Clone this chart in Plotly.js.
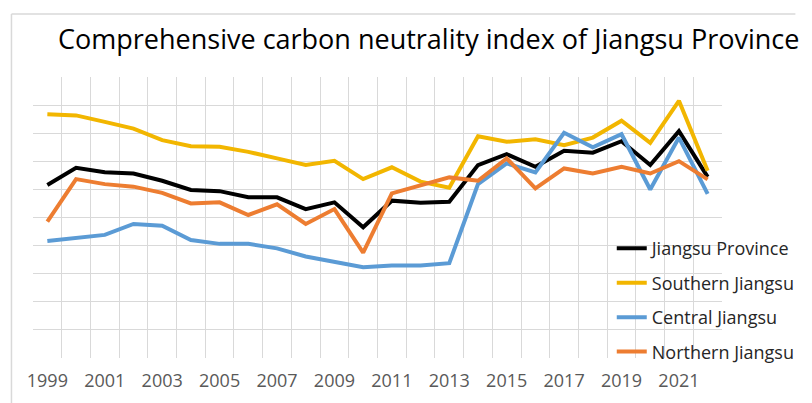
<!DOCTYPE html>
<html>
<head>
<meta charset="utf-8">
<script src="https://cdn.plot.ly/plotly-3.0.1.min.js"></script>
<style>html,body{margin:0;padding:0;background:#fff;}</style>
</head>
<body>
<div id="chart" style="width:812px;height:403px;"></div>
<script>
const years = [1999,2000,2001,2002,2003,2004,2005,2006,2007,2008,2009,2010,2011,2012,2013,2014,2015,2016,2017,2018,2019,2020,2021,2022];
const jiangsuProvince = [0.616,0.677,0.661,0.657,0.631,0.598,0.594,0.572,0.572,0.530,0.554,0.465,0.560,0.553,0.556,0.687,0.726,0.681,0.738,0.731,0.772,0.687,0.808,0.645];
const southernJiangsu = [0.868,0.864,0.841,0.817,0.776,0.754,0.752,0.734,0.711,0.687,0.702,0.637,0.679,0.628,0.606,0.790,0.770,0.779,0.758,0.785,0.845,0.766,0.916,0.667];
const centralJiangsu = [0.416,0.426,0.438,0.477,0.471,0.420,0.406,0.406,0.390,0.361,0.343,0.323,0.329,0.329,0.337,0.619,0.693,0.661,0.802,0.750,0.797,0.600,0.785,0.584];
const northernJiangsu = [0.485,0.637,0.619,0.610,0.588,0.550,0.554,0.509,0.547,0.477,0.530,0.375,0.586,0.616,0.643,0.631,0.711,0.604,0.675,0.657,0.681,0.657,0.701,0.636];
const tickYears = [1999,2001,2003,2005,2007,2009,2011,2013,2015,2017,2019,2021];

const seriesNames = ["Jiangsu Province","Southern Jiangsu","Central Jiangsu","Northern Jiangsu"];
const seriesData = [jiangsuProvince, southernJiangsu, centralJiangsu, northernJiangsu];
const seriesColors = ["#000000","#F2B600","#5B9BD5","#ED7D31"];

const traces = seriesData.map((d,i)=>({
  x: years, y: d, type: 'scatter', mode: 'lines', name: seriesNames[i],
  legendgroup: 'g'+i,
  line: {color: seriesColors[i], width: 4}
}));

const gridColor = '#d9d9d9';
const layout = {
  width: 812, height: 403,
  margin: {l: 33, r: 75, t: 77, b: 45},
  paper_bgcolor: '#fff', plot_bgcolor: '#fff',
  font: {family: 'Open Sans, sans-serif', color: '#595959'},
  title: {
    text: 'Comprehensive carbon neutrality index of Jiangsu Province',
    font: {family: 'Open Sans, sans-serif', size: 27, color: '#000'},
    xref: 'container', x: 0.528, xanchor: 'center',
    yref: 'container', y: 0.903, yanchor: 'middle'
  },
  xaxis: {
    range: [1998.5, 2022.5], tickvals: tickYears, ticktext: tickYears.map(String),
    showgrid: false, zeroline: false, showline: false, ticks: '',
    ticklabelstandoff: 10,
    tickfont: {size: 18, color: '#595959'},
    minor: {tick0: 1998.5, dtick: 1, showgrid: true, gridcolor: gridColor, gridwidth: 1, ticks: ''}
  },
  yaxis: {
    range: [-0.001, 1.001], dtick: 0.1, tick0: 0, showticklabels: false,
    showgrid: true, gridcolor: gridColor, gridwidth: 1.5, zeroline: false, showline: false, ticks: ''
  },
  showlegend: true,
  legend: {
    x: 0.84, xanchor: 'left', y: 0.455, yanchor: 'top',
    bgcolor: 'rgba(0,0,0,0)', font: {size: 18, color: '#262626'},
    traceorder: 'grouped', tracegroupgap: 8
  },
  shapes: [
    {type: 'line', xref: 'paper', yref: 'paper', x0: -22/704, x1: 779/704, y0: 344/281, y1: 344/281, line: {color: '#d9d9d9', width: 1.5}},
    {type: 'line', xref: 'paper', yref: 'paper', x0: -22/704, x1: -22/704, y0: 344/281, y1: -50/281, line: {color: '#d9d9d9', width: 1.5}}
  ]
};
Plotly.newPlot('chart', traces, layout, {displayModeBar: false, staticPlot: true});
</script>
</body>
</html>
